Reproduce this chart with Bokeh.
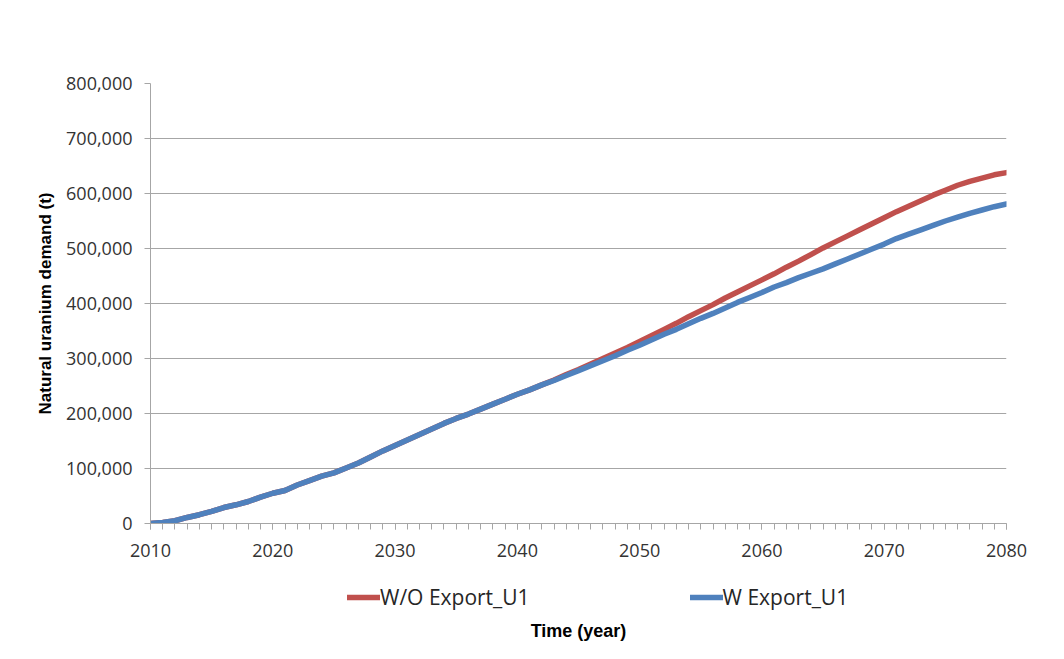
from bokeh.plotting import figure
from bokeh.layouts import column
from bokeh.models import (Legend, LegendItem, FixedTicker, NumeralTickFormatter,
                          Range1d, ColumnDataSource, Label)
from bokeh.embed import file_html
from bokeh.resources import INLINE

years = list(range(2010, 2081))

wo_export_u1 = [
    0, 2000, 5000, 11000, 16000, 22000, 29000, 34000, 40000, 48000,
    55000, 60000, 70000, 78000, 86000, 92000, 101000, 110000, 121000, 132000,
    142000, 152000, 162000, 172000, 182000, 191000, 199000, 208000, 217000, 226000,
    235000, 243000, 252000, 261000, 271000, 280000, 290000, 300000, 310000, 320000,
    331000, 342000, 353000, 364000, 376000, 387000, 398000, 410000, 421000, 432000,
    443000, 454000, 466000, 477000, 489000, 501000, 512000, 523000, 534000, 545000,
    556000, 567000, 577000, 587000, 597000, 606000, 615000, 622000, 628000, 634000,
    638000,
]

w_export_u1 = [
    0, 2000, 5000, 11000, 16000, 22000, 29000, 34000, 40000, 48000,
    55000, 60000, 70000, 78000, 86000, 92000, 101000, 110000, 121000, 132000,
    142000, 152000, 162000, 172000, 182000, 191000, 199000, 208000, 217000, 226000,
    235000, 243000, 252000, 260000, 269000, 278000, 287000, 296000, 305000, 315000,
    324000, 334000, 344000, 353000, 363000, 373000, 382000, 392000, 402000, 411000,
    420000, 430000, 438000, 447000, 455000, 463000, 472000, 481000, 490000, 499000,
    508000, 518000, 526000, 534000, 542000, 550000, 557000, 564000, 570000, 576000,
    581000,
]

x_ticks = [2010, 2020, 2030, 2040, 2050, 2060, 2070, 2080]
y_ticks = [0, 100000, 200000, 300000, 400000, 500000, 600000, 700000, 800000]

series_names = ["W/O Export_U1", "W Export_U1"]
series_colors = ["#C0504D", "#4F81BD"]
x_title = "Time (year)"
y_title = "Natural uranium demand (t)"

W = 1048
p = figure(width=W, height=563, output_backend="svg", toolbar_location=None,
           x_range=Range1d(2010, 2080), y_range=Range1d(0, 800000),
           min_border_left=150, min_border_right=42, min_border_top=83,
           min_border_bottom=40)
p.outline_line_color = None
p.background_fill_color = "white"
p.border_fill_color = "white"

src = ColumnDataSource(dict(year=years, wo=wo_export_u1, w=w_export_u1))
p.line("year", "wo", source=src, line_color=series_colors[0], line_width=5.5,
       line_cap="round", line_join="round")
p.line("year", "w", source=src, line_color=series_colors[1], line_width=5.5,
       line_cap="round", line_join="round")

grid_col = "#a6a6a6"
tick_col = "#333333"

p.xaxis.ticker = FixedTicker(ticks=x_ticks, minor_ticks=years)
p.yaxis.ticker = FixedTicker(ticks=y_ticks)
p.yaxis.formatter = NumeralTickFormatter(format="0,0")
p.xgrid.grid_line_color = None
p.ygrid.grid_line_color = grid_col
p.ygrid.grid_line_width = 1

for ax in (p.xaxis[0], p.yaxis[0]):
    ax.axis_line_color = grid_col
    ax.major_tick_line_color = grid_col
    ax.minor_tick_line_color = grid_col
    ax.major_tick_in = 0
    ax.major_tick_out = 6
    ax.major_label_text_font = "Open Sans"
    ax.major_label_text_font_size = "18px"
    ax.major_label_text_color = tick_col

p.xaxis.minor_tick_in = 0
p.xaxis.minor_tick_out = 6
p.yaxis.minor_tick_line_color = None
p.xaxis.major_label_standoff = 14
p.yaxis.major_label_standoff = 12

p.yaxis.axis_label = y_title
p.yaxis.axis_label_text_font = "Liberation Sans"
p.yaxis.axis_label_text_font_style = "bold"
p.yaxis.axis_label_text_font_size = "17px"
p.yaxis.axis_label_text_color = "#000000"
p.yaxis.axis_label_standoff = 8

# legend strip below the chart (its own small figure, lines kept off-view)
q = figure(width=W, height=80, output_backend="svg", toolbar_location=None,
           x_range=Range1d(2010, 2080), y_range=Range1d(-2, -1),
           x_axis_location=None, y_axis_location=None,
           min_border_left=150, min_border_right=42, min_border_top=0,
           min_border_bottom=0)
q.outline_line_color = None
q.xgrid.grid_line_color = None
q.ygrid.grid_line_color = None
q1 = q.line("year", "wo", source=src, line_color=series_colors[0], line_width=5.5,
            line_cap="round")
q2 = q.line("year", "w", source=src, line_color=series_colors[1], line_width=5.5,
            line_cap="round")

legend = Legend(
    items=[LegendItem(label=series_names[0], renderers=[q1]),
           LegendItem(label=series_names[1], renderers=[q2])],
    orientation="horizontal", location=(197, 32),
    border_line_color=None, background_fill_alpha=0,
    label_text_font="Open Sans", label_text_font_size="21px",
    label_text_color="#262626",
    glyph_width=33, glyph_height=20, label_height=20, label_standoff=0,
    spacing=160, padding=0, margin=0,
)
q.add_layout(legend, "center")

q.add_layout(Label(x=428, y=13, x_units="screen", y_units="screen", text=x_title,
                   text_align="center", text_baseline="middle",
                   text_font="Liberation Sans", text_font_style="bold",
                   text_font_size="18px", text_color="#000000"))

layout = column(p, q, spacing=0)
open("out.html", "w").write(file_html(layout, INLINE))
